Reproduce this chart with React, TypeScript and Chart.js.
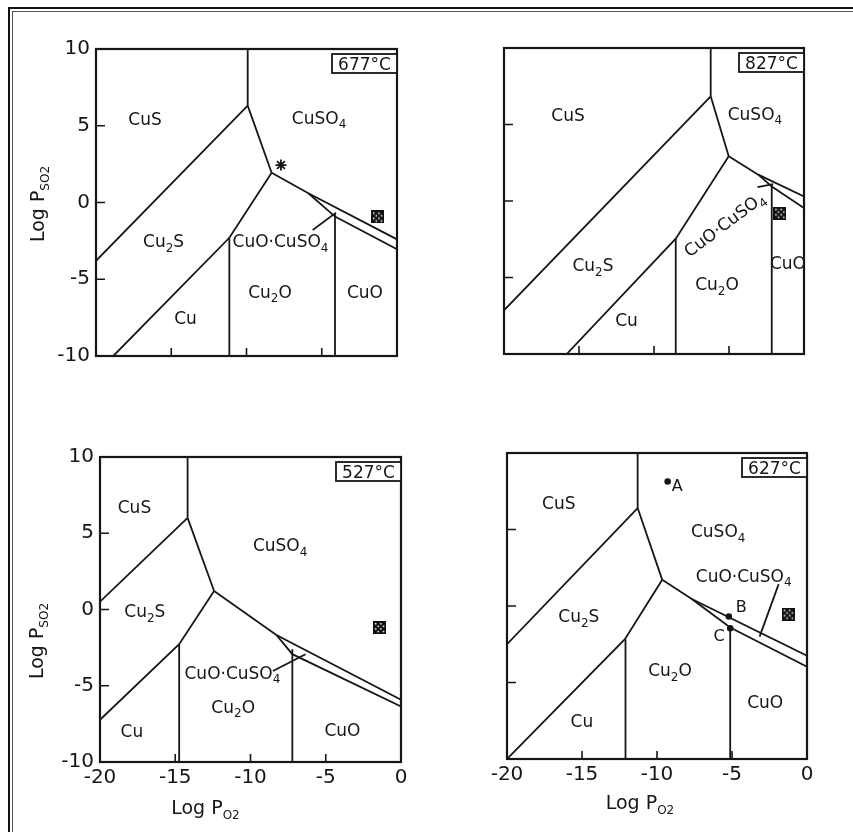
import React, { useEffect, useRef } from "react";
import { Chart, registerables } from "chart.js";

Chart.register(...registerables);

type Pt = [number, number];
type Lbl = [string, number, number, number?];

// ---------- shared axes ----------
const X_MIN = -20;
const X_MAX = 0;
const Y_MIN = -10;
const Y_MAX = 10;
const X_TICK_VALUES = [-20, -15, -10, -5, 0];
const Y_TICK_VALUES = [-10, -5, 0, 5, 10];
const X_INNER_MARKS = [-15, -10, -5];
const Y_INNER_MARKS = [-5, 0, 5];
const X_TITLE = "Log P_{O2}";
const Y_TITLE = "Log P_{SO2}";

// ---------- 677 °C ----------
const TEMP_677 = "677°C";
const L677_CUS_CUSO4: Pt[] = [[-9.92, 10], [-9.92, 6.31]];
const L677_CUS_CU2S: Pt[] = [[-20, -3.8], [-9.92, 6.31]];
const L677_CU2S_CUSO4: Pt[] = [[-9.92, 6.31], [-8.33, 1.94]];
const L677_CU2S_LOW: Pt[] = [[-8.33, 1.94], [-11.14, -2.3], [-18.85, -10]];
const L677_CU_CU2O: Pt[] = [[-11.14, -2.3], [-11.14, -10]];
const L677_UPPER: Pt[] = [[-8.33, 1.94], [-5.89, 0.6], [0, -2.4]];
const L677_LOWER: Pt[] = [[-5.89, 0.6], [-4.12, -0.92], [0, -3.05]];
const L677_CU2O_CUO: Pt[] = [[-4.12, -0.75], [-4.12, -10]];
const L677_LEADER: Pt[] = [[-5.6, -1.79], [-4.05, -0.66]];
const STAR_677: Pt[] = [[-7.71, 2.44]];
const SQUARE_677: Pt[] = [[-1.3, -0.94]];
const LABELS_677: Lbl[] = [
  ["CuS", -16.74, 5.47],
  ["CuSO_4", -5.18, 5.54],
  ["Cu_2S", -15.51, -2.51],
  ["CuO·CuSO_4", -7.74, -2.51],
  ["Cu_2O", -8.44, -5.8],
  ["CuO", -2.13, -5.8],
  ["Cu", -14.05, -7.49],
];

// ---------- 827 °C ----------
const TEMP_827 = "827°C";
const L827_CUS_CUSO4: Pt[] = [[-6.22, 10], [-6.22, 6.84]];
const L827_CUS_CU2S: Pt[] = [[-20, -7.15], [-6.22, 6.84]];
const L827_CU2S_CUSO4: Pt[] = [[-6.22, 6.84], [-5.02, 2.92]];
const L827_CU2S_LOW: Pt[] = [[-5.02, 2.92], [-8.55, -2.46], [-15.82, -10]];
const L827_CU_CU2O: Pt[] = [[-8.55, -2.46], [-8.55, -10]];
const L827_UPPER: Pt[] = [[-5.02, 2.92], [-3.05, 1.72], [0, 0.3]];
const L827_LOWER: Pt[] = [[-3.05, 1.72], [-2.15, 0.95], [0, -0.46]];
const L827_CU2O_CUO: Pt[] = [[-2.15, 1.05], [-2.15, -10]];
const L827_LEADER: Pt[] = [[-3.1, 0.9], [-2.05, 1.1]];
const SQUARE_827: Pt[] = [[-1.62, -0.8]];
const LABELS_827: Lbl[] = [
  ["CuS", -15.73, 5.62],
  ["CuSO_4", -3.27, 5.73],
  ["Cu_2S", -14.07, -4.18],
  ["CuO·CuSO_4", -5.33, -1.5, -37],
  ["Cu_2O", -5.8, -5.42],
  ["CuO", -1.07, -4.03],
  ["Cu", -11.83, -7.78],
];

// ---------- 527 °C ----------
const TEMP_527 = "527°C";
const L527_CUS_CUSO4: Pt[] = [[-14.18, 10], [-14.18, 6.01]];
const L527_CUS_CU2S: Pt[] = [[-20, 0.51], [-14.18, 6.01]];
const L527_CU2S_CUSO4: Pt[] = [[-14.18, 6.01], [-12.42, 1.21]];
const L527_CU2S_LOW: Pt[] = [[-12.42, 1.21], [-14.74, -2.28], [-20, -7.23]];
const L527_CU_CU2O: Pt[] = [[-14.74, -2.28], [-14.74, -10]];
const L527_UPPER: Pt[] = [[-12.42, 1.21], [-8.28, -1.67], [0, -5.92]];
const L527_LOWER: Pt[] = [[-8.28, -1.67], [-7.22, -2.93], [0, -6.36]];
const L527_CU2O_CUO: Pt[] = [[-7.22, -2.6], [-7.22, -10]];
const L527_LEADER: Pt[] = [[-8.51, -4.03], [-6.34, -2.93]];
const SQUARE_527: Pt[] = [[-1.44, -1.18]];
const LABELS_527: Lbl[] = [
  ["CuS", -17.71, 6.73],
  ["CuSO_4", -8.03, 4.22],
  ["Cu_2S", -17.02, -0.1],
  ["CuO·CuSO_4", -11.2, -4.13],
  ["Cu_2O", -11.15, -6.38],
  ["CuO", -3.89, -7.89],
  ["Cu", -17.88, -7.98],
];

// ---------- 627 °C ----------
const TEMP_627 = "627°C";
const L627_CUS_CUSO4: Pt[] = [[-11.29, 10], [-11.29, 6.4]];
const L627_CUS_CU2S: Pt[] = [[-20, -2.5], [-11.29, 6.4]];
const L627_CU2S_CUSO4: Pt[] = [[-11.29, 6.4], [-9.65, 1.71]];
const L627_CU2S_LOW: Pt[] = [[-9.65, 1.71], [-12.14, -2.17], [-20, -10]];
const L627_CU_CU2O: Pt[] = [[-12.1, -2.17], [-12.1, -10]];
const L627_UPPER: Pt[] = [[-9.65, 1.71], [-7.68, 0.46], [0, -3.25]];
const L627_LOWER: Pt[] = [[-7.68, 0.46], [-5.12, -1.41], [0, -3.97]];
const L627_CU2O_CUO: Pt[] = [[-5.12, -1.41], [-5.12, -10]];
const L627_LEADER: Pt[] = [[-3.16, -2.0], [-1.89, 1.43]];
const SQUARE_627: Pt[] = [[-1.25, -0.53]];
const POINTS_627: Pt[] = [[-9.29, 8.14], [-5.21, -0.69], [-5.12, -1.45]];
const POINT_LABELS_627: Lbl[] = [
  ["A", -8.65, 7.9],
  ["B", -4.39, 0.02],
  ["C", -5.86, -1.91],
];
const LABELS_627: Lbl[] = [
  ["CuS", -16.55, 6.75],
  ["CuSO_4", -5.92, 4.91],
  ["CuO·CuSO_4", -4.22, 1.97],
  ["Cu_2S", -15.21, -0.67],
  ["Cu_2O", -9.13, -4.18],
  ["CuO", -2.79, -6.28],
  ["Cu", -15.01, -7.52],
];

// ---------- styling ----------
const INK = "#161616";
const FONT = '"DejaVu Sans", "Liberation Sans", sans-serif';
const PAD_L = 90;
const PAD_T = 20;
const PAD_R = 20;
const PAD_B = 70;

type PanelCfg = {
  temp: string;
  rect: { L: number; T: number; R: number; B: number };
  lines: Pt[][];
  squares: Pt[];
  stars: Pt[];
  dots: Pt[];
  dotLabels: Lbl[];
  labels: Lbl[];
  showX: boolean;
  showY: boolean;
  yTitle: [number, number] | null;
  xTitle: [number, number] | null;
};

const PANELS: PanelCfg[] = [
  {
    temp: TEMP_677,
    rect: { L: 96, T: 49, R: 397, B: 356 },
    lines: [L677_CUS_CUSO4, L677_CUS_CU2S, L677_CU2S_CUSO4, L677_CU2S_LOW, L677_CU_CU2O, L677_UPPER, L677_LOWER, L677_CU2O_CUO, L677_LEADER],
    squares: SQUARE_677,
    stars: STAR_677,
    dots: [],
    dotLabels: [],
    labels: LABELS_677,
    showX: false,
    showY: true,
    yTitle: [-59, 1.5],
    xTitle: null,
  },
  {
    temp: TEMP_827,
    rect: { L: 504, T: 48, R: 804, B: 354 },
    lines: [L827_CUS_CUSO4, L827_CUS_CU2S, L827_CU2S_CUSO4, L827_CU2S_LOW, L827_CU_CU2O, L827_UPPER, L827_LOWER, L827_CU2O_CUO, L827_LEADER],
    squares: SQUARE_827,
    stars: [],
    dots: [],
    dotLabels: [],
    labels: LABELS_827,
    showX: false,
    showY: false,
    yTitle: null,
    xTitle: null,
  },
  {
    temp: TEMP_527,
    rect: { L: 100, T: 457, R: 401, B: 762 },
    lines: [L527_CUS_CUSO4, L527_CUS_CU2S, L527_CU2S_CUSO4, L527_CU2S_LOW, L527_CU_CU2O, L527_UPPER, L527_LOWER, L527_CU2O_CUO, L527_LEADER],
    squares: SQUARE_527,
    stars: [],
    dots: [],
    dotLabels: [],
    labels: LABELS_527,
    showX: true,
    showY: true,
    yTitle: [-64, 31.5],
    xTitle: [-45, 45.5],
  },
  {
    temp: TEMP_627,
    rect: { L: 507, T: 453, R: 807, B: 759 },
    lines: [L627_CUS_CUSO4, L627_CUS_CU2S, L627_CU2S_CUSO4, L627_CU2S_LOW, L627_CU_CU2O, L627_UPPER, L627_LOWER, L627_CU2O_CUO, L627_LEADER],
    squares: SQUARE_627,
    stars: [],
    dots: POINTS_627,
    dotLabels: POINT_LABELS_627,
    labels: LABELS_627,
    showX: true,
    showY: false,
    yTitle: null,
    xTitle: [-17, 43.5],
  },
];

// ---------- helpers ----------
let checkerCanvas: HTMLCanvasElement | null = null;
function getChecker(): HTMLCanvasElement {
  if (!checkerCanvas) {
    const c = document.createElement("canvas");
    c.width = 13;
    c.height = 13;
    const g = c.getContext("2d")!;
    g.fillStyle = "#111";
    g.fillRect(0, 0, 13, 13);
    g.fillStyle = "#fff";
    for (let i = 0; i < 4; i++)
      for (let j = 0; j < 4; j++)
        if ((i + j) % 2 === 0) g.fillRect(2 + i * 2.6, 2 + j * 2.6, 1.5, 1.5);
    checkerCanvas = c;
  }
  return checkerCanvas;
}

type Seg = { t: string; sub: boolean };
function parseRich(s: string): Seg[] {
  const out: Seg[] = [];
  let buf = "";
  let i = 0;
  while (i < s.length) {
    if (s[i] === "_") {
      if (buf) {
        out.push({ t: buf, sub: false });
        buf = "";
      }
      if (s[i + 1] === "{") {
        const j = s.indexOf("}", i);
        out.push({ t: s.slice(i + 2, j), sub: true });
        i = j + 1;
      } else {
        out.push({ t: s[i + 1], sub: true });
        i += 2;
      }
    } else {
      buf += s[i];
      i++;
    }
  }
  if (buf) out.push({ t: buf, sub: false });
  return out;
}

function drawRich(
  ctx: CanvasRenderingContext2D,
  s: string,
  x: number,
  y: number,
  size: number,
  subSize: number,
  angle = 0
) {
  const segs = parseRich(s);
  const fMain = `${size}px ${FONT}`;
  const fSub = `${subSize}px ${FONT}`;
  const widths = segs.map((g) => {
    ctx.font = g.sub ? fSub : fMain;
    return ctx.measureText(g.t).width;
  });
  const total = widths.reduce((a, b) => a + b, 0);
  ctx.save();
  ctx.translate(x, y);
  ctx.rotate((angle * Math.PI) / 180);
  ctx.fillStyle = INK;
  ctx.textAlign = "left";
  ctx.textBaseline = "alphabetic";
  const base = size * 0.365;
  let cx = -total / 2;
  segs.forEach((g, k) => {
    ctx.font = g.sub ? fSub : fMain;
    ctx.fillText(g.t, cx, g.sub ? base + size * 0.26 : base);
    cx += widths[k];
  });
  ctx.restore();
}

function toXY(pts: Pt[]) {
  return pts.map(([x, y]) => ({ x, y }));
}

function Panel({ cfg }: { cfg: PanelCfg }) {
  const ref = useRef<HTMLCanvasElement>(null);
  const { L, T, R, B } = cfg.rect;
  const left = L - PAD_L;
  const top = T - PAD_T;
  const w = R - L + PAD_L + PAD_R;
  const h = B - T + PAD_T + PAD_B;

  useEffect(() => {
    const datasets: any[] = cfg.lines.map((pts) => ({
      data: toXY(pts),
      showLine: true,
      borderColor: INK,
      borderWidth: 1.8,
      pointRadius: 0,
      fill: false,
      tension: 0,
    }));
    if (cfg.squares.length)
      datasets.push({
        data: toXY(cfg.squares),
        pointStyle: getChecker(),
        pointRadius: 7,
        showLine: false,
      });
    if (cfg.stars.length)
      datasets.push({
        data: toXY(cfg.stars),
        pointStyle: "star",
        pointRadius: 5.5,
        borderColor: INK,
        borderWidth: 1.8,
        showLine: false,
      });
    if (cfg.dots.length)
      datasets.push({
        data: toXY(cfg.dots),
        pointStyle: "circle",
        pointRadius: 3.3,
        backgroundColor: INK,
        borderWidth: 0,
        showLine: false,
      });

    const decor = {
      id: "decor",
      afterDatasetsDraw(chart: any) {
        const ctx: CanvasRenderingContext2D = chart.ctx;
        const a = chart.chartArea;
        const xs = chart.scales.x;
        const ys = chart.scales.y;
        ctx.save();
        ctx.strokeStyle = INK;
        // frame
        ctx.lineWidth = 2.2;
        ctx.strokeRect(a.left, a.top, a.right - a.left, a.bottom - a.top);
        // inward tick marks
        ctx.lineWidth = 1.6;
        ctx.beginPath();
        X_INNER_MARKS.forEach((v) => {
          const px = xs.getPixelForValue(v);
          ctx.moveTo(px, a.bottom);
          ctx.lineTo(px, a.bottom - 8);
        });
        Y_INNER_MARKS.forEach((v) => {
          const py = ys.getPixelForValue(v);
          ctx.moveTo(a.left, py);
          ctx.lineTo(a.left + 9, py);
        });
        ctx.stroke();
        // region labels
        cfg.labels.forEach(([t, x, y, ang]) => {
          drawRich(ctx, t, xs.getPixelForValue(x), ys.getPixelForValue(y), 17, 12, ang || 0);
        });
        cfg.dotLabels.forEach(([t, x, y]) => {
          drawRich(ctx, t, xs.getPixelForValue(x), ys.getPixelForValue(y), 16, 12, 0);
        });
        // temperature box
        const bw = 65;
        const bh = 19;
        const bx = a.right - bw;
        const by = a.top + 5;
        ctx.fillStyle = "#fff";
        ctx.fillRect(bx, by, bw, bh);
        ctx.lineWidth = 1.8;
        ctx.strokeRect(bx, by, bw, bh);
        drawRich(ctx, cfg.temp, bx + bw / 2, by + bh / 2, 17, 12, 0);
        // axis titles
        if (cfg.yTitle) {
          drawRich(ctx, Y_TITLE, a.left + cfg.yTitle[0], (a.top + a.bottom) / 2 + cfg.yTitle[1], 19, 12, -90);
        }
        if (cfg.xTitle) {
          drawRich(ctx, X_TITLE, (a.left + a.right) / 2 + cfg.xTitle[0], a.bottom + cfg.xTitle[1], 19, 12, 0);
        }
        ctx.restore();
      },
    };

    const chart = new Chart(ref.current!, {
      type: "scatter",
      data: { datasets },
      options: {
        animation: false,
        responsive: false,
        devicePixelRatio: 1,
        events: [],
        layout: { padding: { left: 0, top: PAD_T, right: PAD_R, bottom: 0 } },
        plugins: { legend: { display: false }, tooltip: { enabled: false } },
        scales: {
          x: {
            type: "linear",
            position: "bottom",
            min: X_MIN,
            max: X_MAX,
            afterBuildTicks: (s: any) => {
              s.ticks = X_TICK_VALUES.map((value) => ({ value }));
            },
            afterFit: (s: any) => {
              s.height = PAD_B;
            },
            grid: { display: false, drawTicks: false },
            border: { display: false },
            ticks: {
              display: cfg.showX,
              padding: 4,
              color: INK,
              maxRotation: 0,
              autoSkip: false,
              font: { family: FONT, size: 20 },
            },
          },
          y: {
            type: "linear",
            position: "left",
            min: Y_MIN,
            max: Y_MAX,
            afterBuildTicks: (s: any) => {
              s.ticks = Y_TICK_VALUES.map((value) => ({ value }));
            },
            afterFit: (s: any) => {
              s.width = PAD_L;
            },
            grid: { display: false, drawTicks: false },
            border: { display: false },
            ticks: {
              display: cfg.showY,
              padding: 6,
              color: INK,
              autoSkip: false,
              font: { family: FONT, size: 20 },
            },
          },
        },
      } as any,
      plugins: [decor],
    });
    return () => chart.destroy();
  }, []);

  return (
    <canvas
      ref={ref}
      width={w}
      height={h}
      style={{ position: "absolute", left, top, width: w, height: h }}
    />
  );
}

export default function App() {
  return (
    <div
      style={{
        position: "absolute",
        left: 0,
        top: 0,
        width: 853,
        height: 832,
        overflow: "hidden",
        background: "#fff",
      }}
    >
      <div
        style={{
          position: "absolute",
          left: 8,
          top: 7,
          width: 900,
          height: 900,
          borderLeft: "2px solid #111",
          borderTop: "2px solid #111",
        }}
      />
      <div
        style={{
          position: "absolute",
          left: 12,
          top: 11,
          width: 900,
          height: 900,
          borderLeft: "1px solid #555",
          borderTop: "1px solid #555",
        }}
      />
      {PANELS.map((p, i) => (
        <Panel key={i} cfg={p} />
      ))}
    </div>
  );
}
